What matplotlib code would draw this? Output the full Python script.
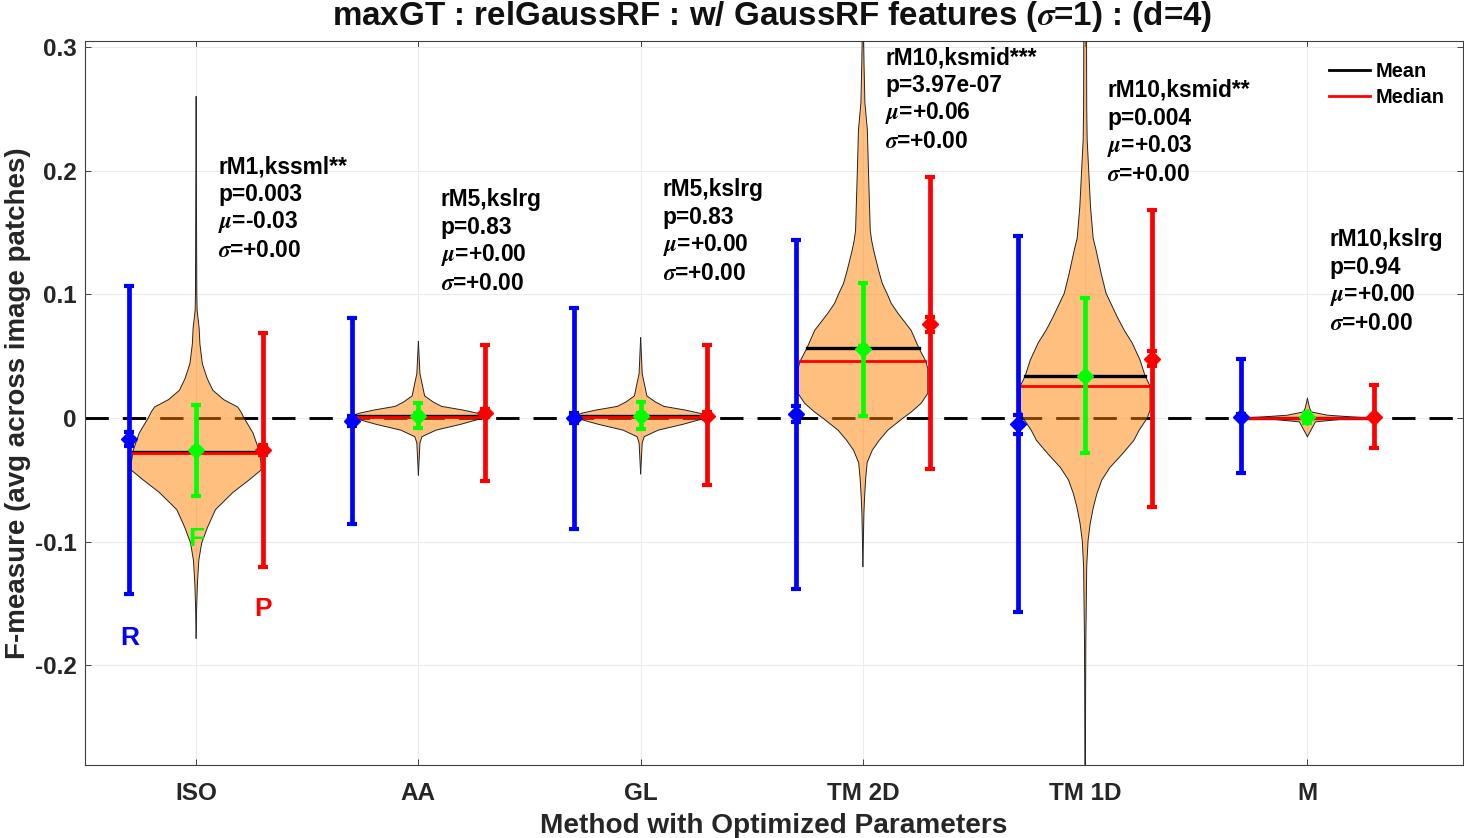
import numpy as np
import matplotlib
matplotlib.use("Agg")
import matplotlib.pyplot as plt

plt.rcParams["font.family"] = ["Liberation Sans", "DejaVu Sans"]
plt.rcParams["font.weight"] = "bold"
plt.rcParams["mathtext.fontset"] = "stix"

methods = ["ISO", "AA", "GL", "TM 2D", "TM 1D", "M"]

# error bars: low / high / centre / small inner bar
recall_low = [-0.142, -0.086, -0.090, -0.138, -0.157, -0.044]
recall_high = [0.1065, 0.081, 0.089, 0.144, 0.147, 0.048]
recall_mid = [-0.017, -0.002, 0.000, 0.003, -0.005, 0.001]
recall_sem = [0.0055, 0.004, 0.004, 0.0065, 0.0075, 0.002]

prec_low = [-0.120, -0.051, -0.054, -0.041, -0.072, -0.024]
prec_high = [0.0685, 0.059, 0.059, 0.195, 0.168, 0.027]
prec_mid = [-0.026, 0.004, 0.002, 0.076, 0.048, 0.001]
prec_sem = [0.004, 0.003, 0.003, 0.006, 0.006, 0.001]

f_low = [-0.063, -0.008, -0.009, 0.002, -0.028, -0.004]
f_high = [0.0105, 0.012, 0.013, 0.109, 0.097, 0.004]
f_mid = [-0.026, 0.002, 0.002, 0.056, 0.034, 0.001]

means = [-0.027, 0.002, 0.002, 0.0566, 0.034, 0.000]
medians = [-0.028, 0.001, 0.001, 0.0465, 0.026, 0.000]

# violin outlines: y value and half width (in x axis units)
iso_y = [0.260, 0.200, 0.150, 0.100, 0.087, 0.073, 0.060, 0.044, 0.032, 0.0226, 0.015, 0.009, 0.005, 0.000,
         -0.012, -0.026, -0.036, -0.042, -0.050, -0.060, -0.074, -0.088, -0.101, -0.115, -0.133, -0.155, -0.178]
iso_w = [0.001, 0.001, 0.002, 0.003, 0.0045, 0.0135, 0.017, 0.028, 0.050, 0.075, 0.124, 0.187, 0.202, 0.216,
         0.256, 0.283, 0.292, 0.292, 0.238, 0.166, 0.087, 0.052, 0.025, 0.012, 0.006, 0.002, 0.000]
aa_y = [0.062, 0.036, 0.025, 0.018, 0.013, 0.0095, 0.0065, 0.004, 0.002, -0.001, -0.005, -0.0097, -0.015, -0.020, -0.046]
aa_w = [0.000, 0.007, 0.020, 0.028, 0.067, 0.105, 0.202, 0.265, 0.297, 0.270, 0.190, 0.079, 0.016, 0.007, 0.000]
gl_y = [0.065, 0.036, 0.025, 0.018, 0.013, 0.0095, 0.0065, 0.004, 0.002, -0.001, -0.005, -0.0097, -0.015, -0.020, -0.045]
gl_w = [0.000, 0.007, 0.020, 0.028, 0.067, 0.105, 0.202, 0.265, 0.297, 0.270, 0.190, 0.079, 0.016, 0.007, 0.000]
tm2d_y = [0.320, 0.287, 0.255, 0.233, 0.200, 0.152, 0.144, 0.136, 0.120, 0.109, 0.101, 0.093, 0.085, 0.078, 0.071,
          0.0566, 0.046, 0.040, 0.033, 0.020, 0.012, 0.0049, 0.000, -0.0097, -0.018, -0.026, -0.036, -0.050, -0.064,
          -0.077, -0.090, -0.120]
tm2d_w = [0.002, 0.005, 0.009, 0.020, 0.025, 0.033, 0.039, 0.048, 0.070, 0.087, 0.108, 0.127, 0.157, 0.187, 0.217,
          0.252, 0.283, 0.292, 0.292, 0.292, 0.262, 0.217, 0.180, 0.112, 0.073, 0.042, 0.019, 0.012, 0.0075,
          0.0045, 0.003, 0.000]
tm1d_y = [0.320, 0.251, 0.225, 0.200, 0.171, 0.1455, 0.136, 0.117, 0.101, 0.082, 0.071, 0.061, 0.047, 0.034,
          0.026, 0.017, 0.0065, 0.000, -0.0097, -0.018, -0.0286, -0.040, -0.050, -0.061, -0.072, -0.085, -0.099,
          -0.120, -0.150, -0.180, -0.220, -0.290]
tm1d_w = [0.006, 0.007, 0.009, 0.016, 0.024, 0.036, 0.049, 0.072, 0.094, 0.144, 0.176, 0.211, 0.247, 0.270,
          0.292, 0.292, 0.292, 0.279, 0.243, 0.219, 0.169, 0.111, 0.075, 0.053, 0.037, 0.023, 0.013,
          0.007, 0.005, 0.003, 0.002, 0.001]
m_y = [0.016, 0.008, 0.005, 0.0024, 0.001, 0.000, -0.001, -0.003, -0.015]
m_w = [0.000, 0.010, 0.018, 0.090, 0.200, 0.297, 0.150, 0.036, 0.000]

violin_y = [iso_y, aa_y, gl_y, tm2d_y, tm1d_y, m_y]
violin_w = [iso_w, aa_w, gl_w, tm2d_w, tm1d_w, m_w]

# stats text next to each violin
stat_names = ["rM1,kssml**", "rM5,kslrg", "rM5,kslrg", "rM10,ksmid***", "rM10,ksmid**", "rM10,kslrg"]
stat_p = ["p=0.003", "p=0.83", "p=0.83", "p=3.97e-07", "p=0.004", "p=0.94"]
stat_mu = ["-0.03", "+0.00", "+0.00", "+0.06", "+0.03", "+0.00"]
stat_sigma = ["+0.00", "+0.00", "+0.00", "+0.00", "+0.00", "+0.00"]
stat_top = [0.2035, 0.177, 0.185, 0.2916, 0.265, 0.1445]

fig = plt.figure(figsize = (14.64, 8.38), dpi = 100)
ax = fig.add_axes([85 / 1464, 1 - 765 / 838, (1463 - 85) / 1464, (765 - 41) / 838])

x_pos = np.arange(1, len(methods) + 1)

ax.plot([0.5, 6.7], [0, 0], color = "black", linewidth = 2.1, dashes = (8, 4.8), zorder = 1)

for i, x in enumerate(x_pos):
  ys = np.array(violin_y[i])
  ws = np.array(violin_w[i])
  ax.fill_betweenx(ys, x - ws, x + ws, facecolor = (1, 0.5, 0), alpha = 0.5,
    linewidth = 0, zorder = 2)
  ax.plot(x - ws, ys, color = "#222222", linewidth = 0.7, zorder = 3)
  ax.plot(x + ws, ys, color = "#222222", linewidth = 0.7, zorder = 3)

  # mean and median span the violin
  asc_y, asc_w = ys[::-1], ws[::-1]
  w = np.interp(means[i], asc_y, asc_w)
  ax.plot([x - w, x + w], [means[i]] * 2, color = "black", linewidth = 2.4, zorder = 4)
  w = np.interp(medians[i], asc_y, asc_w)
  ax.plot([x - w, x + w], [medians[i]] * 2, color = "red", linewidth = 2.0, zorder = 4)

def draw_bars(xs, low, high, mid, sem, color):
  for x, lo, hi, c, s in zip(xs, low, high, mid, sem):
    ax.plot([x, x], [lo, hi], color = color, linewidth = 3.4, zorder = 5,
      solid_capstyle = "butt")
    ax.plot([x, x], [lo, hi], linestyle = "none", marker = "_", color = color,
      markersize = 7, markeredgewidth = 3, zorder = 5)
    ax.plot([x, x], [c - s, c + s], linestyle = "none", marker = "_", color = color,
      markersize = 7, markeredgewidth = 3, zorder = 5)
    ax.plot([x], [c], marker = "D", color = color, markersize = 8, zorder = 6)

draw_bars(x_pos - 0.3, recall_low, recall_high, recall_mid, recall_sem, "#0000ff")
draw_bars(x_pos, f_low, f_high, f_mid, [0.002] * 6, "#00ff00")
draw_bars(x_pos + 0.3, prec_low, prec_high, prec_mid, prec_sem, "#ff0000")

for i, x in enumerate(x_pos):
  lines = [
    stat_names[i],
    stat_p[i],
    r"$\mu$=" + stat_mu[i],
    r"$\sigma$=" + stat_sigma[i]
  ]
  for j, line in enumerate(lines):
    ax.text(x + 0.1, stat_top[i] - j * 0.0226, line, fontsize = 16.4, va = "center",
      ha = "left", color = "black", zorder = 7)

ax.text(0.7, -0.1775, "R", color = "#0000ff", fontsize = 19, ha = "center", va = "center")
ax.text(1.3, -0.1545, "P", color = "#ff0000", fontsize = 19, ha = "center", va = "center")
ax.text(1.0, -0.0975, "F", color = "#00ff00", fontsize = 19, ha = "center", va = "center", zorder = 7)

line_mean, = ax.plot([], [], color = "black", linewidth = 2, label = "Mean")
line_median, = ax.plot([], [], color = "red", linewidth = 2, label = "Median")
ax.legend(handles = [line_mean, line_median], frameon = False, fontsize = 14.4,
  loc = "upper right", bbox_to_anchor = (0.9965, 0.991), handlelength = 2.05,
  handletextpad = 0.25, labelspacing = 0.36, borderaxespad = 0.3)

ax.set_xlim(0.5, 6.7)
ax.set_ylim(-0.2805, 0.305)
ax.set_xticks(x_pos)
ax.set_xticklabels(methods)
ax.set_yticks([-0.2, -0.1, 0, 0.1, 0.2, 0.3])
ax.set_yticklabels(["-0.2", "-0.1", "0", "0.1", "0.2", "0.3"])
ax.tick_params(axis = "both", labelsize = 17.5, labelcolor = "#262626", color = "#262626",
  direction = "in", length = 4, width = 0.6, top = True, right = True, pad = 12)
ax.tick_params(axis = "y", pad = 6)
ax.grid(True, color = "#ebebeb", linewidth = 0.8, zorder = 0)
ax.set_axisbelow(True)
for spine in ax.spines.values():
  spine.set_color("#404040")
  spine.set_linewidth(0.8)

ax.set_title(r"maxGT : relGaussRF : w/ GaussRF features ($\sigma$=1) : (d=4)",
  fontsize = 23.9, fontweight = "bold", color = "#111111", pad = 11.5, x = 0.4985)
ax.set_xlabel("Method with Optimized Parameters", fontsize = 20.2, fontweight = "bold",
  color = "#262626", labelpad = 6)
ax.set_ylabel("F-measure (avg across image patches)", fontsize = 20, fontweight = "bold",
  color = "#262626", labelpad = 3)

plt.savefig("out.png", dpi = 100)
